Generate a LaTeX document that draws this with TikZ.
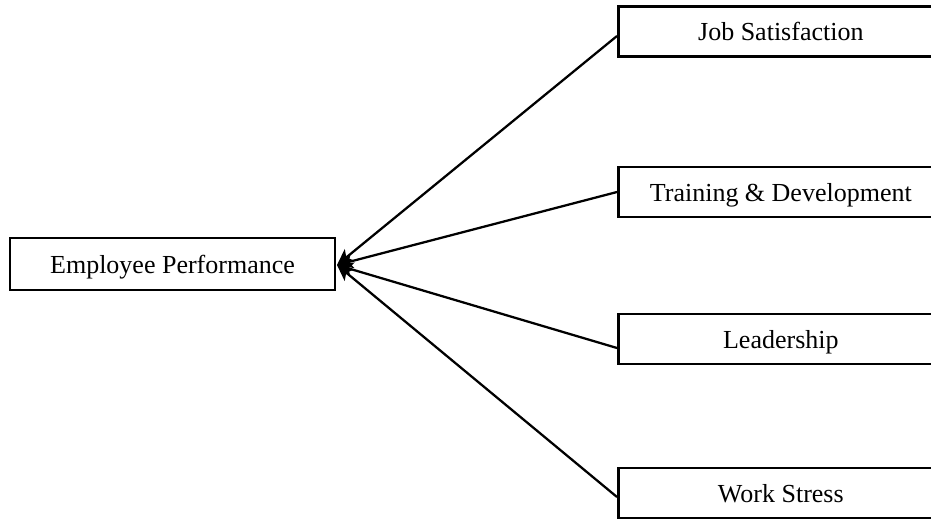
\documentclass[tikz,border=0pt]{standalone}
\usepackage{fontspec}
\setmainfont{Liberation Serif}
\usetikzlibrary{arrows.meta,calc}
\begin{document}
\begin{tikzpicture}[x=0.75pt,y=-0.75pt,
  box/.style={draw,line width=2pt,rectangle,minimum width=243.75pt,minimum height=37.5pt,inner sep=0pt,text depth=0pt,font=\fontsize{19.5}{22}\selectfont},
  link/.style={line width=1.7pt,-{Stealth[length=12pt,width=11pt,inset=3pt]}}]
\useasboundingbox (0,0) rectangle (931,518);
\clip (0,0) rectangle (931,518);
\node[box,minimum height=39pt] (ep) at (172.5,264) {Employee Performance};
\node[box,anchor=west] (js) at (617,31.5) {Job Satisfaction};
\node[box,anchor=west] (td) at (617,192) {Training \& Development};
\node[box,anchor=west] (ld) at (617,339) {Leadership};
\node[box,anchor=west] (ws) at (617,493) {Work Stress};
\coordinate (tip) at (337,265);
\coordinate (jsin) at ($(js.west)+(0,4.5)$);
\coordinate (ldin) at ($(ld.west)+(0,9)$);
\coordinate (wsin) at ($(ws.west)+(0,4)$);
\draw[link] (jsin) -- (tip);
\draw[link] (td.west) -- (tip);
\draw[link] (ldin) -- (tip);
\draw[link] (wsin) -- (tip);
\end{tikzpicture}
\end{document}
